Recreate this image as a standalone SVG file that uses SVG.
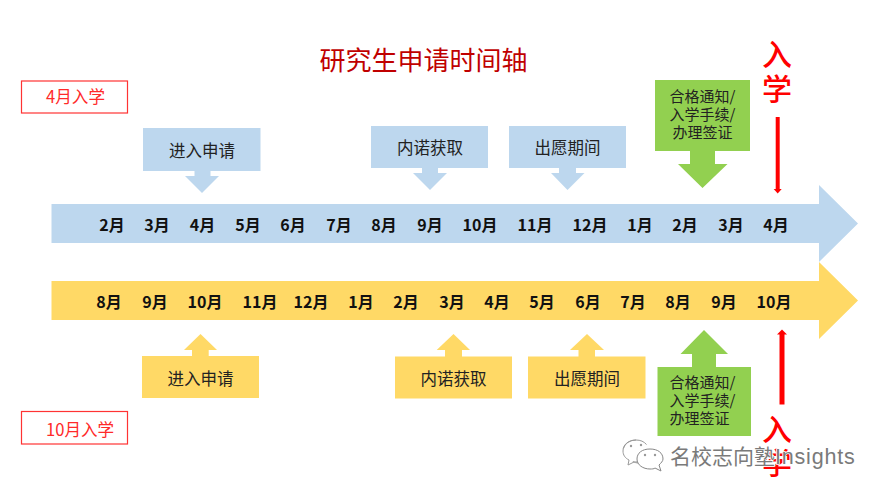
<svg xmlns="http://www.w3.org/2000/svg" width="885" height="497" viewBox="0 0 885 497">
<style>
text{font-family:"Noto Sans CJK SC",sans-serif}
.m{font-size:16px;font-weight:700;fill:#111;text-anchor:middle}
.c{font-size:16.5px;fill:#222;text-anchor:middle}
.g{font-size:15px;fill:#222;text-anchor:middle}
.r{font-size:16.6px;fill:#ff2a2a}
.bl{fill:#bdd7ee}.ye{fill:#ffd966}.gr{fill:#92d050}
.lab{fill:none;stroke:#ff3333;stroke-width:1.2}
.big{font-size:30px;font-weight:500;fill:#f00;text-anchor:middle}
.wm{font-size:21px;fill:#7a7a7a;stroke:#fff;stroke-width:1.6px;paint-order:stroke}
</style>
<rect width="885" height="497" fill="#fff"/>
<g id="title"><text x="423.5" y="70" font-size="26" fill="#c00000" text-anchor="middle">研究生申请时间轴</text></g>
<g id="label-apr"><rect class="lab" x="21.5" y="81" width="106" height="32"/><text class="r" x="46" y="103">4月入学</text></g>
<g id="label-oct"><rect class="lab" x="21.5" y="411.500" width="106" height="32.500"/><text class="r" x="46" y="436">10月入学</text></g>
<g id="timeline-apr"><path class="bl" d="M51.500 204H819V185L858 223.500L819 262V243H51.500Z"/>
<text class="m" x="112" y="231">2月</text><text class="m" x="157" y="231">3月</text><text class="m" x="202.500" y="231">4月</text><text class="m" x="248" y="231">5月</text><text class="m" x="293" y="231">6月</text><text class="m" x="339" y="231">7月</text><text class="m" x="384" y="231">8月</text><text class="m" x="430" y="231">9月</text><text class="m" x="480" y="231">10月</text><text class="m" x="535" y="231">11月</text><text class="m" x="590" y="231">12月</text><text class="m" x="640" y="231">1月</text><text class="m" x="685" y="231">2月</text><text class="m" x="731" y="231">3月</text><text class="m" x="776" y="231">4月</text></g>
<g id="timeline-oct"><path class="ye" d="M51.500 281H819V262L858 300.500L819 339V320H51.500Z"/>
<text class="m" x="109" y="307.500">8月</text><text class="m" x="155" y="307.500">9月</text><text class="m" x="205" y="307.500">10月</text><text class="m" x="260" y="307.500">11月</text><text class="m" x="311" y="307.500">12月</text><text class="m" x="361" y="307.500">1月</text><text class="m" x="406" y="307.500">2月</text><text class="m" x="452" y="307.500">3月</text><text class="m" x="497" y="307.500">4月</text><text class="m" x="542" y="307.500">5月</text><text class="m" x="588" y="307.500">6月</text><text class="m" x="633" y="307.500">7月</text><text class="m" x="678" y="307.500">8月</text><text class="m" x="724" y="307.500">9月</text><text class="m" x="774" y="307.500">10月</text></g>
<g id="apr-apply"><path class="bl" d="M143 128H260.500V171H210.500V176H219L202 193L185 176H194.500V171H143Z"/><text class="c" x="202" y="156.500">进入申请</text></g>
<g id="apr-naitei"><path class="bl" d="M371 126H488V168H438V173H447L430 190L413 173H422V168H371Z"/><text class="c" x="430" y="153.500">内诺获取</text></g>
<g id="apr-shutsugan"><path class="bl" d="M509 126H626V168H576V173H584.500L567.500 190L551 173H559V168H509Z"/><text class="c" x="567.500" y="153.500">出愿期间</text></g>
<g id="apr-pass"><path class="gr" d="M655 80H750V151H715V164H727.500L702.500 188L678 164H690V151H655Z"/><text class="g" x="702.500" y="102">合格通知/</text><text class="g" x="702.500" y="120">入学手续/</text><text class="g" x="702.500" y="138">办理签证</text></g>
<g id="oct-apply"><path class="ye" d="M142 356H192V350H184L200.500 334L217 350H208.700V356H259V398H142Z"/><text class="c" x="200.500" y="384.500">进入申请</text></g>
<g id="oct-naitei"><path class="ye" d="M395 356.500H445V350H436.700L453.500 334L470 350H462V356.500H512V398.500H395Z"/><text class="c" x="453.500" y="384.500">内诺获取</text></g>
<g id="oct-shutsugan"><path class="ye" d="M528 356.500H578.500V350H570L587 334L604 350H595V356.500H645.500V398.500H528Z"/><text class="c" x="587" y="384.500">出愿期间</text></g>
<g id="oct-pass"><path class="gr" d="M657.500 367H692V354H680.500L704 330L728 354H716V367H751V436H657.500Z"/><text class="g" x="702.500" y="388">合格通知/</text><text class="g" x="702.500" y="406">入学手续/</text><text class="g" x="699.500" y="424">办理签证</text></g>
<g id="connectors">
<path d="M777.700 117V189" stroke="#f00" stroke-width="4" fill="none"/><path d="M773.700 189H781.700L777.700 193.500Z" fill="#f00"/>
<path d="M782 404.500V334" stroke="#f00" stroke-width="5" fill="none"/><path d="M777 334.500H787L782 329.500Z" fill="#f00"/>
</g>
<g id="enroll-apr"><text class="big" x="777" y="65">入</text><text class="big" x="777" y="100">学</text></g>
<g id="enroll-oct"><text class="big" x="777" y="440">入</text><text class="big" x="777" y="474">学</text></g>
<g id="watermark">
<path d="M636 440C628 440 623 445 623 451C623 455 625 458 629 460L628 465L634 462C636 463 638 463 640 463" fill="#fff" stroke="#999" stroke-width="1"/>
<ellipse cx="636" cy="451" rx="13" ry="11" fill="none" stroke="#999" stroke-width="1" stroke-dasharray="28 18" stroke-dashoffset="-40"/>
<path d="M650 449C642 449 637 453 637 459C637 465 643 469 650 469C652 469 654 469 655 468L661 471L659 465C661 463 663 461 663 459C663 453 658 449 650 449Z" fill="#fff" stroke="#888" stroke-width="1"/>
<g fill="#999"><circle cx="631" cy="446" r="1.200"/><circle cx="641" cy="445" r="1.200"/><circle cx="645" cy="455" r="1.200"/><circle cx="655" cy="455" r="1.200"/></g>
<text class="wm" x="670" y="464">名校志向塾<tspan font-size="21.5" letter-spacing="0.800" style="font-family:'Liberation Sans',sans-serif">Insights</tspan></text>
</g>
</svg>
